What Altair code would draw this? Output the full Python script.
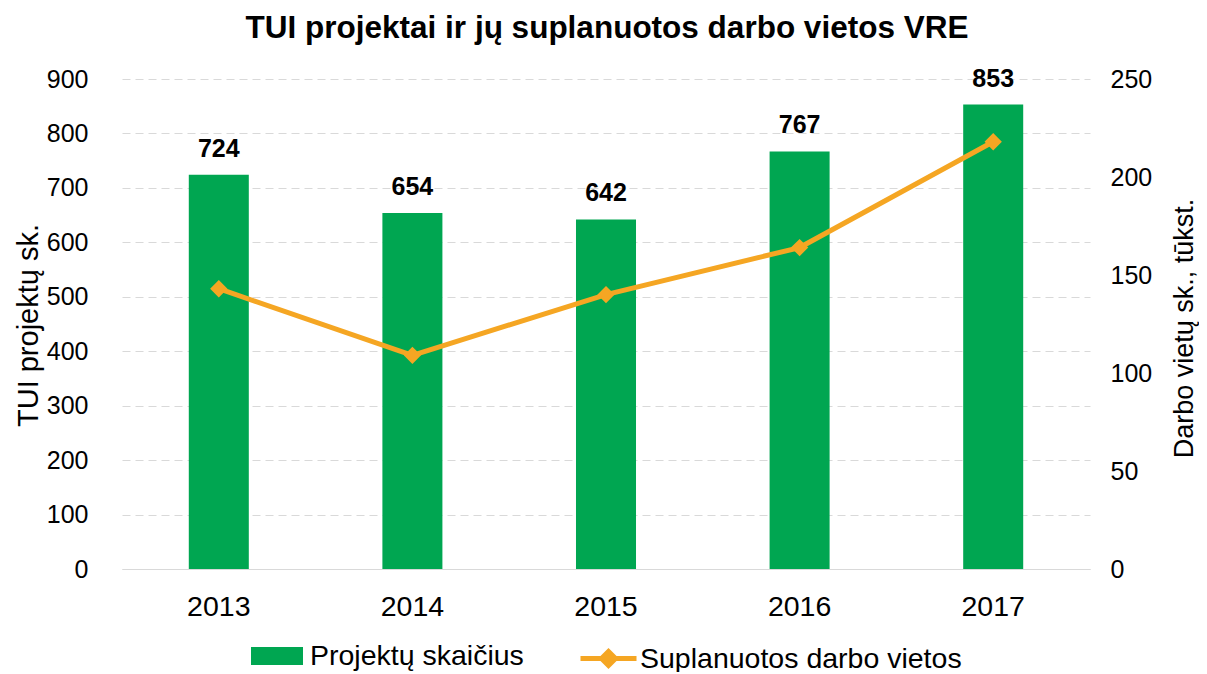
import altair as alt
import pandas as pd

title_text = "TUI projektai ir jų suplanuotos darbo vietos VRE"
years = ["2013", "2014", "2015", "2016", "2017"]
projects = [724, 654, 642, 767, 853]
jobs = [143, 109, 140, 164, 218]

df = pd.DataFrame({"year": years, "projects": projects, "jobs": jobs,
                   "s1": ["Projektų skaičius"] * 5,
                   "s2": ["Suplanuotos darbo vietos"] * 5})

GREEN = "#00A651"
ORANGE = "#F5A623"
FONT = "Liberation Sans"

x = alt.X("year:N", title=None,
          scale=alt.Scale(paddingInner=0.69, paddingOuter=0.345),
          axis=alt.Axis(labelAngle=0, labelFontSize=28.5, labelColor="#000", labelPadding=23,
                        ticks=False, domainColor="#d9d9d9", labelFont=FONT))

bars = alt.Chart(df).mark_bar(color=GREEN).encode(
    x=x,
    y=alt.Y("projects:Q", title="TUI projektų sk.",
            scale=alt.Scale(domain=[0, 900]),
            axis=alt.Axis(values=list(range(0, 901, 100)), labelFontSize=25, titleFontSize=29,
                          labelColor="#000", titleColor="#000", titleFontWeight="normal",
                          domain=False, ticks=False, grid=True, gridDash=[8, 5],
                          gridColor="#d9d9d9", labelPadding=34,
                          titleAngle=270, titleX=-94, titleY=246, titleAlign="center",
                          titleBaseline="middle",
                          labelFont=FONT, titleFont=FONT)),
    fill=alt.Fill("s1:N", title=None,
                  scale=alt.Scale(range=[GREEN]),
                  legend=alt.Legend(orient="none", legendX=129, legendY=551, padding=0,
                                    symbolType="M-1,-0.35L1,-0.35L1,0.35L-1,0.35Z",
                                    symbolSize=2704, symbolOffset=0, labelLimit=0,
                                    labelFontSize=28.5, labelFont=FONT, labelColor="#000",
                                    labelOffset=7, symbolStrokeWidth=0)),
)

labels = alt.Chart(df).mark_text(dy=-18, baseline="alphabetic", fontSize=25,
                                 fontWeight="bold", font=FONT, color="#000").encode(
    x=x, y=alt.Y("projects:Q", scale=alt.Scale(domain=[0, 900])),
    text="projects:Q")

title_df = pd.DataFrame({"t": [title_text]})
title = alt.Chart(title_df).mark_text(fontSize=31.5, fontWeight="bold", font=FONT,
                                      color="#000", baseline="alphabetic",
                                      align="center").encode(
    text="t:N", x=alt.value(485), y=alt.value(-41))

left = alt.layer(bars, labels)

line = alt.Chart(df).mark_line(color=ORANGE, strokeWidth=5,
                               point=alt.OverlayMarkDef(shape="diamond", size=210,
                                                        filled=True, color=ORANGE)).encode(
    x=x,
    y=alt.Y("jobs:Q", title="Darbo vietų sk., tūkst.",
            scale=alt.Scale(domain=[0, 250]),
            axis=alt.Axis(values=list(range(0, 251, 50)), labelFontSize=25, titleFontSize=27,
                          labelColor="#000", titleColor="#000", titleFontWeight="normal",
                          domain=False, ticks=False, grid=False, labelPadding=20,
                          titleAngle=270, titleX=94, titleY=249, titleAlign="center",
                          titleBaseline="middle",
                          labelFont=FONT, titleFont=FONT, orient="right")),
    stroke=alt.Stroke("s2:N", title=None,
                      scale=alt.Scale(range=[ORANGE]),
                      legend=alt.Legend(orient="none", legendX=456, legendY=549, padding=0,
                                        symbolType="M-1,0L1,0M0,-0.25L0.25,0L0,0.25L-0.25,0Z",
                                        symbolSize=3136, symbolStrokeWidth=5,
                                        symbolFillColor=ORANGE, labelLimit=0,
                                        labelFontSize=28.5, labelFont=FONT, labelColor="#000",
                                        labelOffset=1)),
)

chart = alt.layer(left, line, title).resolve_scale(y="independent", fill="independent",
                                                   stroke="independent").properties(
    width=968, height=490,
    autosize=alt.AutoSizeParams(type="none"),
    padding={"left": 114, "top": 71, "right": 109, "bottom": 103},
).configure_view(stroke=None)

chart.save("out.html", embed_options={"renderer": "svg", "actions": False})
